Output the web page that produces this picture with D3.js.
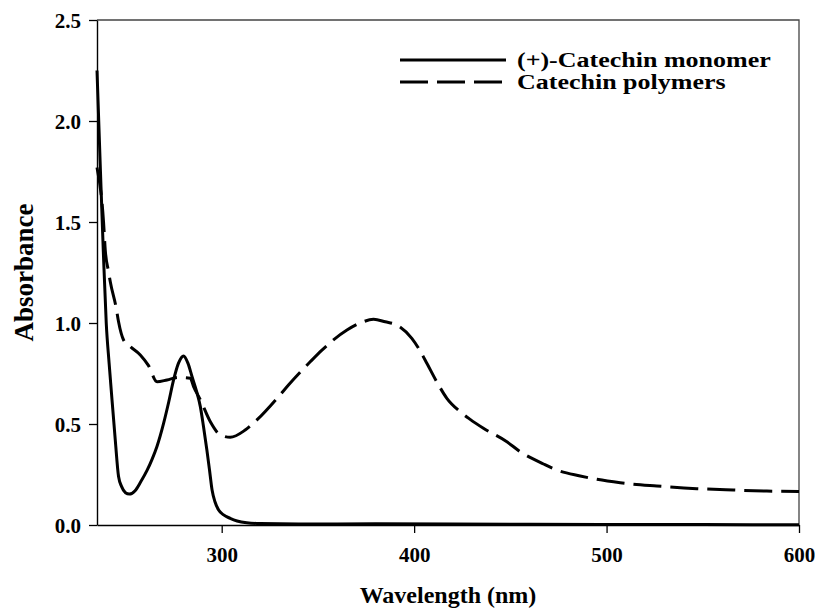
<!DOCTYPE html>
<html>
<head>
<meta charset="utf-8">
<script src="https://cdn.jsdelivr.net/npm/d3@7.9.0/dist/d3.min.js"></script>
<style>
  body { margin: 0; background: #fff; }
  text { font-family: "Liberation Serif", "Times New Roman", serif; font-weight: bold; fill: #000; }
</style>
</head>
<body>
<div id="chart"></div>
<script>
// (+)-Catechin monomer, wavelength (nm) / absorbance
const monomerWl = [235.2, 237, 238.5, 240, 241.5, 243, 244.7, 246.4, 248, 250, 252, 255, 258, 261.2, 263.8, 266.4, 269.8, 272.5, 275, 277.5, 280.2, 282.5, 284.6, 287, 288.9, 290.5, 292.3, 293.7, 295, 296.5, 298.4, 301, 304.4, 308, 313, 320, 340, 380, 420, 460, 500, 550, 600];
const monomerAbs = [2.25, 1.75, 1.35, 1.0, 0.8, 0.62, 0.42, 0.24, 0.19, 0.16, 0.153, 0.17, 0.215, 0.27, 0.325, 0.39, 0.503, 0.61, 0.718, 0.8, 0.837, 0.8, 0.734, 0.66, 0.586, 0.49, 0.371, 0.27, 0.173, 0.115, 0.074, 0.05, 0.033, 0.02, 0.011, 0.007, 0.005, 0.006, 0.005, 0.004, 0.003, 0.002, 0.001];

// Catechin polymers
const polymerWl = [235.2, 238.6, 239.5, 241.2, 242.1, 245.2, 246.4, 249, 252.5, 257.7, 261.9, 266.4, 271.6, 277.4, 283.7, 285.4, 288.9, 294.1, 299.3, 304.4, 312.2, 318.3, 329.5, 334.7, 346, 352.1, 365.1, 372, 378.9, 385, 391, 398.8, 402.3, 405.7, 412.7, 417, 423.9, 429.1, 436, 448.2, 455.1, 467.2, 474.2, 486.3, 495, 507.1, 526.1, 546.9, 565.9, 583.3, 600];
const polymerAbs = [1.77, 1.5, 1.36, 1.254, 1.204, 1.073, 1.006, 0.916, 0.883, 0.842, 0.79, 0.709, 0.718, 0.73, 0.726, 0.685, 0.62, 0.511, 0.446, 0.434, 0.47, 0.52, 0.635, 0.693, 0.808, 0.866, 0.965, 1.0, 1.018, 1.006, 0.99, 0.924, 0.875, 0.817, 0.693, 0.627, 0.561, 0.523, 0.479, 0.412, 0.363, 0.302, 0.272, 0.243, 0.226, 0.209, 0.193, 0.18, 0.173, 0.168, 0.166];

const xTicks = [300, 400, 500, 600];
const yTicks = [0, 0.5, 1.0, 1.5, 2.0, 2.5];
const seriesNames = ["(+)-Catechin monomer", "Catechin polymers"];

const W = 815, H = 608;
const margin = { top: 20, right: 16, bottom: 83, left: 97 };
const width = W - margin.left - margin.right,
      height = H - margin.top - margin.bottom;

const svg = d3.select("#chart").append("svg")
  .attr("width", W)
  .attr("height", H);

const g = svg.append("g")
  .attr("transform", `translate(${margin.left},${margin.top})`);

const x = d3.scaleLinear().domain([235.2, 600]).range([0, width]);
const y = d3.scaleLinear().domain([0, 2.5]).range([height, 0]);

// frame (top and right)
g.append("path")
  .attr("d", `M0,0H${width}V${height}`)
  .attr("fill", "none")
  .attr("stroke", "#444")
  .attr("stroke-width", 1.3);

// axes
const xAxis = g.append("g")
  .attr("transform", `translate(0,${height})`)
  .call(d3.axisBottom(x).tickValues(xTicks).tickFormat(d3.format("d")).tickSize(8).tickSizeOuter(0));
const yAxis = g.append("g")
  .call(d3.axisLeft(y).tickValues(yTicks).tickFormat(d3.format(".1f")).tickSize(8).tickSizeOuter(0));

[xAxis, yAxis].forEach(a => {
  a.select(".domain").attr("stroke", "#000").attr("stroke-width", 1.4);
  a.selectAll(".tick line").attr("stroke", "#000").attr("stroke-width", 1.3);
  a.selectAll("text")
    .attr("font-family", null)
    .style("font-size", "21px");
});
xAxis.selectAll("text").attr("y", 22);
yAxis.selectAll("text").attr("x", -16).attr("dy", "0.34em");

// lines
const line = d3.line()
  .x(d => x(d[0]))
  .y(d => y(d[1]))
  .curve(d3.curveMonotoneX);

g.append("path")
  .datum(monomerWl.map((w, i) => [w, monomerAbs[i]]))
  .attr("fill", "none")
  .attr("stroke", "#000")
  .attr("stroke-width", 3)
  .attr("d", line);

g.append("path")
  .datum(polymerWl.map((w, i) => [w, polymerAbs[i]]))
  .attr("fill", "none")
  .attr("stroke", "#000")
  .attr("stroke-width", 3)
  .attr("stroke-dasharray", "28,9")
  .attr("d", line);

// axis titles
svg.append("text")
  .attr("x", margin.left + width / 2)
  .attr("y", 603)
  .attr("text-anchor", "middle")
  .style("font-size", "24px")
  .text("Wavelength (nm)");

svg.append("text")
  .attr("transform", `translate(33,${margin.top + height / 2}) rotate(-90)`)
  .attr("text-anchor", "middle")
  .style("font-size", "27px")
  .text("Absorbance");

// legend
const legend = svg.append("g").attr("transform", "translate(400,60)");
seriesNames.forEach((name, i) => {
  const row = legend.append("g").attr("transform", `translate(0,${i * 22})`);
  row.append("line")
    .attr("x1", 0).attr("x2", i === 0 ? 106 : 103)
    .attr("stroke", "#000")
    .attr("stroke-width", 3)
    .attr("stroke-dasharray", i === 0 ? null : "28,9");
  row.append("text")
    .attr("transform", "translate(117,0) scale(1.3,1)")
    .attr("dy", "0.35em")
    .style("font-size", "20px")
    .text(name);
});
</script>
</body>
</html>
